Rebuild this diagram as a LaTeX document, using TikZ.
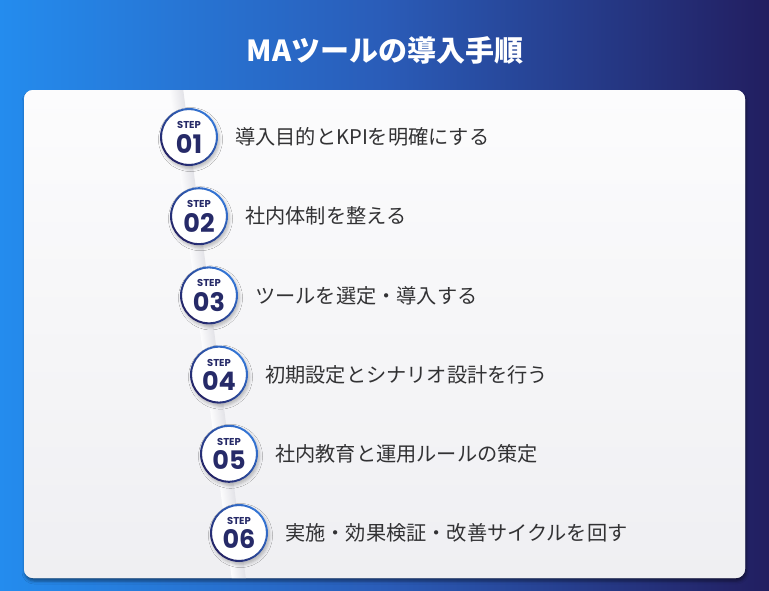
\documentclass[tikz,border=0pt]{standalone}
\usepackage{fontspec}
\setmainfont{Noto Sans CJK JP}
\newfontfamily\jpfont{Noto Sans CJK JP}
\newfontfamily\numfont{Poppins}
\usetikzlibrary{shadows.blur}
\definecolor{bgL}{RGB}{36,140,238}
\definecolor{bgM}{RGB}{42,92,184}
\definecolor{bgR}{RGB}{34,30,96}
\definecolor{navy}{RGB}{38,42,104}
\definecolor{ringA}{RGB}{52,118,214}
\definecolor{ringB}{RGB}{36,34,100}
\definecolor{txt}{RGB}{50,50,52}
\definecolor{cardA}{RGB}{252,252,253}
\definecolor{cardB}{RGB}{239,239,242}
\definecolor{fold}{RGB}{226,226,231}
\tikzset{
  stepcircle/.style={circle, minimum size=58pt, inner sep=0pt, fill=white,
    blur shadow={shadow xshift=1.5pt, shadow yshift=-2.5pt, shadow blur radius=3pt, shadow opacity=25}},
  steplabel/.style={font=\jpfont\fontsize{20.2}{23}\selectfont, text=txt, anchor=west, inner sep=0pt},
  stepword/.style={font=\numfont\bfseries\fontsize{10}{11}\selectfont, text=navy, inner sep=0pt},
  stepnum/.style={font=\numfont\bfseries\fontsize{25.5}{27}\selectfont, text=navy, inner sep=0pt},
  cardshape/.style={rounded corners=9pt}
}
\begin{document}
\begin{tikzpicture}[x=1pt,y=-1pt]
\useasboundingbox (0,0) rectangle (769,590);
% background
\shade[left color=bgL, right color=bgR, middle color=bgM] (0,0) rectangle (769,590);
% title
\node[font=\jpfont\bfseries\fontsize{29}{32}\selectfont, text=white] (title) at (385,50) {MAツールの導入手順};
% card
\path[cardshape, fill=cardB, blur shadow={shadow xshift=1pt, shadow yshift=-3pt, shadow blur radius=3pt, shadow opacity=45}] (24,90) rectangle (745,578);
\shade[cardshape, top color=cardA, bottom color=cardB] (24,90) rectangle (745,578);
% fold band
\begin{scope}
  \clip[cardshape] (24,90) rectangle (745,578);
  \begin{scope}[transform canvas={shift={(183pt,-88pt)}, rotate=7.3}]
    \shade[left color=cardA, right color=fold] (-14,0) rectangle (0,500);
  \end{scope}
\end{scope}
% steps
\foreach \i/\t in {1/導入目的とKPIを明確にする, 2/社内体制を整える, 3/ツールを選定・導入する, 4/初期設定とシナリオ設計を行う, 5/社内教育と運用ルールの策定, 6/実施・効果検証・改善サイクルを回す}{
  \pgfmathsetmacro{\cx}{189+10*(\i-1)}
  \pgfmathsetmacro{\cy}{137+79.2*(\i-1)}
  \node[stepcircle] (s\i) at (\cx,\cy) {};
  \shade[even odd rule, left color=ringA, right color=ringB, shading angle=-45] (s\i.center) circle (29) (s\i.center) circle (27);
  \node[stepword] (w\i) at ([yshift=12pt]s\i.center) {STEP};
  \node[stepnum] (n\i) at ([yshift=-6.5pt]s\i.center) {0\i};
  \node[steplabel] (t\i) at ([xshift=46pt]s\i.center) {\t};
}
\end{tikzpicture}
\end{document}
